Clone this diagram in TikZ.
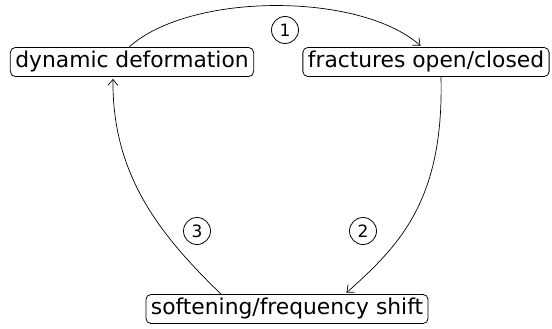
\documentclass[tikz,border=0pt]{standalone}
\usepackage{fontspec}
\setmainfont{DejaVu Sans}
\usetikzlibrary{arrows.meta,positioning}

\begin{document}
\begin{tikzpicture}[x=1pt, y=-1pt,
    state/.style={rectangle, draw, rounded corners=5pt, line width=0.8pt,
                  font=\fontsize{21.8}{25}\selectfont, text height=16pt,
                  text depth=5pt, inner xsep=5pt, inner ysep=4pt},
    step num/.style={circle, draw, line width=0.8pt, minimum size=27pt,
                     inner sep=0pt, font=\fontsize{17}{20}\selectfont},
    link/.style={-{Straight Barb[length=6pt,width=10pt]}, line width=0.7pt,
                 shorten >=2pt},
  ]
  \useasboundingbox (0,0) rectangle (552,329);

  % Zustaende
  \node[state] (deform) at (132,62) {dynamic deformation};
  \node[state] (fract) at (426,62) {fractures open/closed};
  \node[state] (soft) at (287,309) {softening/frequency shift};

  % Nummern
  \node[step num] (n1) at (285,30) {1};
  \node[step num] (n2) at (363,231) {2};
  \node[step num] (n3) at (197,231) {3};

  % Pfeile
  \draw[link] ([xshift=-3pt]deform.north) .. controls (190,-8) and (360,-8)
    .. ([xshift=-4pt]fract.north);
  \draw[link] ([xshift=15pt]fract.south) .. controls (444,200) and (400,245)
    .. ([xshift=58pt]soft.north);
  \draw[link] ([xshift=-66pt]soft.north) .. controls (160,235) and (112,175)
    .. ([xshift=-19pt]deform.south);
\end{tikzpicture}
\end{document}
